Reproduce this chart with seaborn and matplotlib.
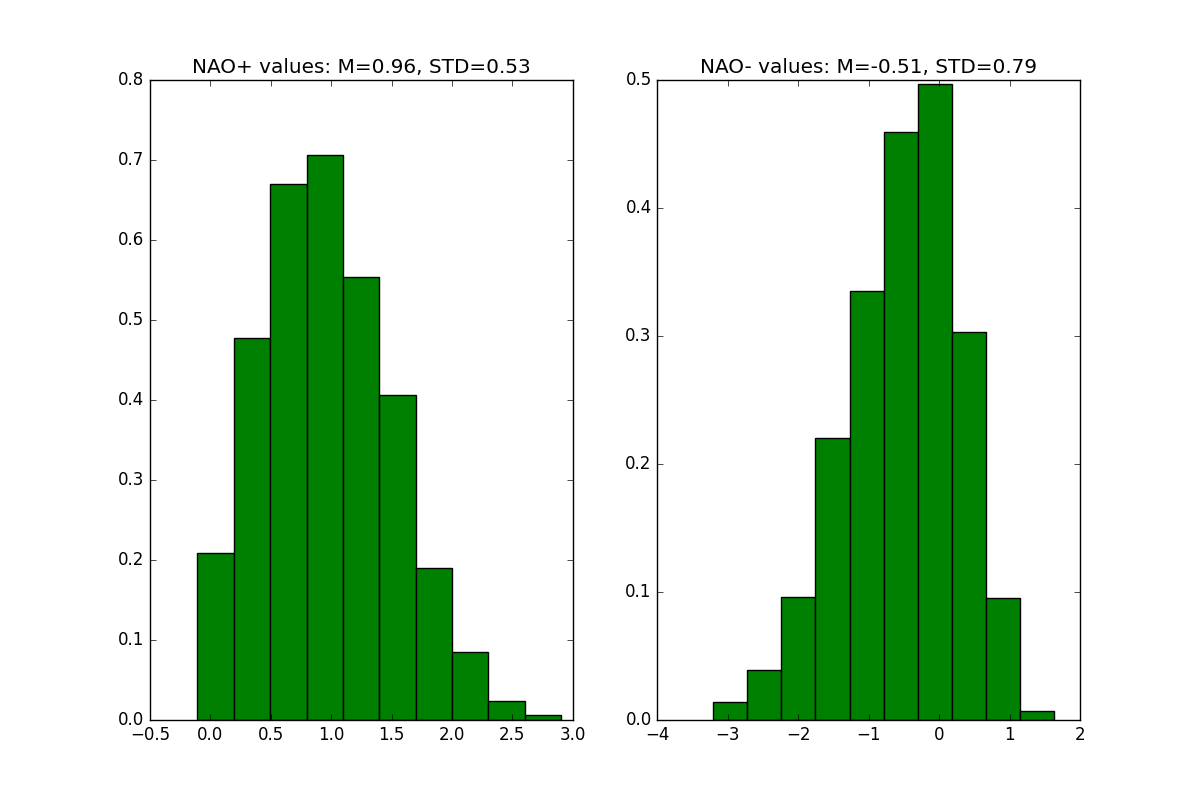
import numpy as np
import pandas as pd
import matplotlib
matplotlib.use('Agg')
import matplotlib.pyplot as plt
import seaborn as sns

# histogram bin edges and normalised heights
pos_edges = list(np.linspace(-0.108, 2.905, 11))
pos_heights = [0.209, 0.4775, 0.670, 0.706, 0.554, 0.406, 0.190, 0.0846, 0.0238, 0.0058]

neg_edges = list(np.linspace(-3.21, 1.636, 11))
neg_heights = [0.0141, 0.039, 0.0959, 0.2203, 0.335, 0.459, 0.4966, 0.3034, 0.095, 0.0068]

pos_title = 'NAO+ values: M=0.96, STD=0.53'
neg_title = 'NAO- values: M=-0.51, STD=0.79'

plt.style.use('classic')
plt.rcParams['font.family'] = ['DejaVu Sans']

fig, (ax1, ax2) = plt.subplots(1, 2, figsize=(12, 8), dpi=100)
fig.patch.set_facecolor('white')

for ax, edges, heights, title in [(ax1, pos_edges, pos_heights, pos_title),
                                  (ax2, neg_edges, neg_heights, neg_title)]:
    e = np.array(edges)
    df = pd.DataFrame({'value': (e[:-1] + e[1:]) / 2, 'height': heights})
    sns.histplot(data=df, x='value', weights='height', bins=edges, stat='count',
                 color='g', alpha=1, edgecolor='black', linewidth=1, ax=ax)
    ax.set_title(title)
    ax.set_xlabel('')
    ax.set_ylabel('')

ax1.set_xlim(-0.5, 3.0)
ax1.set_ylim(0, 0.8)
ax2.set_xlim(-4, 2)
ax2.set_ylim(0, 0.5)

fig.savefig('out.png', dpi=100, facecolor='white')
